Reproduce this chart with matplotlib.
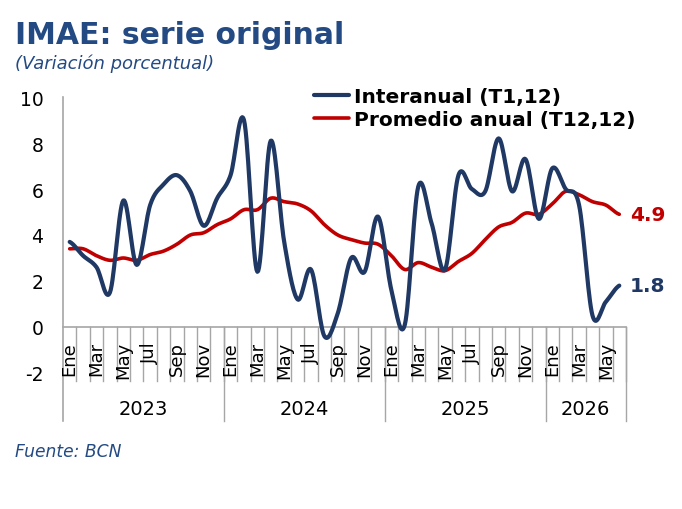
import numpy as np
import matplotlib.pyplot as plt

plt.rcParams["axes.unicode_minus"] = False

# IMAE, variacion porcentual, ene-2023 a jun-2026
anios = ["2023", "2024", "2025", "2026"]
meses = ["Ene", "Feb", "Mar", "Abr", "May", "Jun",
         "Jul", "Ago", "Sep", "Oct", "Nov", "Dic"]
interanual = [3.7, 3.1, 2.6, 1.5, 5.5, 2.7, 5.3, 6.2, 6.6, 5.9, 4.4, 5.6,
              6.6, 9.0, 2.4, 8.1, 3.7, 1.2, 2.5, -0.4, 0.6, 3.0, 2.4, 4.8,
              1.6, 0.1, 6.1, 4.5, 2.5, 6.6, 6.0, 5.9, 8.2, 5.9, 7.3, 4.7,
              6.9, 6.0, 5.3, 0.5, 1.1, 1.8]
promedio = [3.4, 3.4, 3.1, 2.9, 3.0, 2.9, 3.15, 3.3, 3.6, 4.0, 4.1, 4.45,
            4.7, 5.1, 5.1, 5.6, 5.45, 5.35, 5.05, 4.45, 4.0, 3.8, 3.65, 3.6,
            3.1, 2.5, 2.8, 2.6, 2.45, 2.85, 3.2, 3.8, 4.35, 4.55, 4.95, 4.9,
            5.35, 5.9, 5.75, 5.45, 5.3, 4.9]
yticks = [-2, 0, 2, 4, 6, 8, 10]

azul = "#1F3864"
rojo = "#C00000"
gris = "#A6A6A6"
titulo_col = "#234A82"


def suave(y, pasos=16):
    # linea suavizada tipo Excel (Catmull-Rom)
    y = np.asarray(y, float)
    p = np.concatenate([[y[0]], y, [y[-1]]])
    t = np.linspace(0, 1, pasos, endpoint=False)
    xs, ys = [], []
    for i in range(len(y) - 1):
        p0, p1, p2, p3 = p[i], p[i + 1], p[i + 2], p[i + 3]
        ys.append(0.5 * (2 * p1 + (p2 - p0) * t
                         + (2 * p0 - 5 * p1 + 4 * p2 - p3) * t ** 2
                         + (3 * p1 - p0 - 3 * p2 + p3) * t ** 3))
        xs.append(i + t)
    xs.append([len(y) - 1])
    ys.append([y[-1]])
    return np.concatenate(xs) + 0.5, np.concatenate(ys)


n = len(interanual)
W, H = 682, 510
fig = plt.figure(figsize=(W / 100, H / 100), dpi=100)
ax = fig.add_axes([63 / W, 1 - 374 / H, 563 / W, 276 / H])
ax.set_xlim(0, n)
ax.set_ylim(-2, 10)
for s in ax.spines.values():
    s.set_visible(False)
ax.set_xticks([])
ax.set_yticks(yticks)
ax.tick_params(axis="y", length=0, pad=14, labelsize=13.5)

# ejes y cuadricula de categorias
ax.plot([0, 0], [10, -4.1], color=gris, lw=1.2, clip_on=False)
ax.plot([0, n], [0, 0], color=gris, lw=1.2, clip_on=False)
for i in range(1, n + 1):
    ax.plot([i, i], [0, -2.35], color=gris, lw=1, clip_on=False)
for i in list(range(12, n, 12)) + [n]:
    ax.plot([i, i], [0, -4.1], color=gris, lw=1, clip_on=False)

for i in range(0, n, 2):
    ax.text(i + 0.5, -0.6, meses[i % 12], rotation=90, ha="center",
            va="top", fontsize=13, clip_on=False)
for k, a in enumerate(anios):
    fin = min(12 * (k + 1), n)
    ax.text((12 * k + fin) / 2, -3.55, a, ha="center", va="center",
            fontsize=14)

xs, ys = suave(interanual)
ax.plot(xs, ys, color=azul, lw=3, label="Interanual (T1,12)",
        solid_capstyle="round", zorder=3)
xs, ys = suave(promedio)
ax.plot(xs, ys, color=rojo, lw=2.6, label="Promedio anual (T12,12)",
        solid_capstyle="round", zorder=2)

ax.annotate(f"{promedio[-1]:.1f}", (n - 0.5, promedio[-1]),
            xytext=(33, 0), textcoords="offset points", ha="right",
            va="center", color=rojo, fontsize=14.5, fontweight="bold")
ax.annotate(f"{interanual[-1]:.1f}", (n - 0.5, interanual[-1]),
            xytext=(33, 0), textcoords="offset points", ha="right",
            va="center", color=azul, fontsize=14.5, fontweight="bold")

fig.legend(loc="upper left", bbox_to_anchor=(314 / W, 1 - 88 / H),
           frameon=False, prop={"size": 14.5, "weight": "bold"},
           handlelength=1.75, handletextpad=0.25, labelspacing=0.22,
           borderpad=0, borderaxespad=0)

fig.text(15 / W, 1 - 44 / H, "IMAE: serie original", fontsize=21.5,
         fontweight="bold", color=titulo_col, va="baseline")
fig.text(15 / W, 1 - 69 / H, "(Variación porcentual)", fontsize=13,
         style="italic", color=titulo_col, va="baseline")
fig.text(15 / W, 1 - 457 / H, "Fuente: BCN", fontsize=12.3,
         style="italic", color=titulo_col, va="baseline")

fig.savefig("out.png", dpi=100)
